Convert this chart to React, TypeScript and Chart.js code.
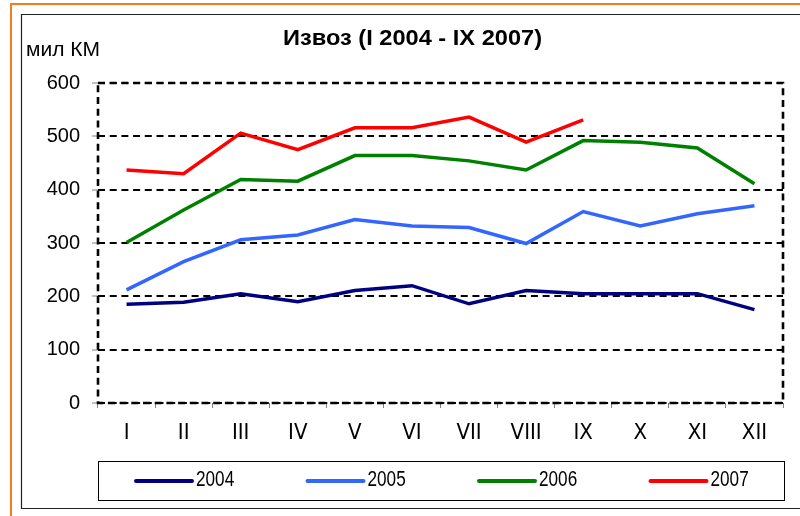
import React, { useEffect, useRef } from 'react';
import { Chart, registerables } from 'chart.js';
Chart.register(...registerables);

const months = ['I', 'II', 'III', 'IV', 'V', 'VI', 'VII', 'VIII', 'IX', 'X', 'XI', 'XII'];
const seriesNames = ['2004', '2005', '2006', '2007'];
const v2004 = [185, 189, 205, 190, 211, 220, 186, 211, 205, 205, 205, 175];
const v2005 = [212, 265, 306, 315, 344, 332, 329, 299, 359, 332, 355, 370];
const v2006 = [301, 362, 419, 416, 464, 464, 454, 437, 492, 489, 478, 411];
const v2007 = [437, 430, 506, 475, 516, 516, 536, 489, 531, null, null, null];
const colors = ['#000080', '#3366FF', '#008000', '#FF0000'];
const yTicks = [0, 100, 200, 300, 400, 500, 600];
const titleText = 'Извоз (I 2004 - IX 2007)';
const unitText = 'мил КМ';

const SANS = "'Liberation Sans', Arial, sans-serif";
const NARROW = "'Liberation Sans Narrow', 'Arial Narrow', 'DejaVu Sans Condensed', 'Liberation Sans', sans-serif";
const DASH = [7, 4.7];

const framePlugin = {
  id: 'frame',
  beforeDraw(chart: any) {
    const ctx = chart.ctx;
    ctx.save();
    ctx.fillStyle = '#fff';
    ctx.fillRect(0, 0, chart.width, chart.height);
    // orange outer frame
    ctx.strokeStyle = '#F47B20';
    ctx.lineWidth = 2;
    ctx.beginPath();
    ctx.moveTo(11, chart.height + 2);
    ctx.lineTo(11, 4);
    ctx.lineTo(chart.width + 2, 4);
    ctx.stroke();
    // black inner frame
    ctx.strokeStyle = '#222';
    ctx.lineWidth = 1.2;
    ctx.beginPath();
    ctx.moveTo(chart.width + 2, 508.5);
    ctx.lineTo(21.5, 508.5);
    ctx.lineTo(21.5, 14.5);
    ctx.lineTo(chart.width + 2, 14.5);
    ctx.stroke();
    ctx.restore();
  },
  afterDraw(chart: any) {
    const ctx = chart.ctx;
    const a = chart.chartArea;
    ctx.save();
    // plot border dashed
    ctx.strokeStyle = '#000';
    ctx.lineWidth = 2.6;
    ctx.setLineDash(DASH);
    ctx.strokeRect(a.left, a.top, a.right - a.left, a.bottom - a.top);
    ctx.setLineDash([]);
    // title
    ctx.fillStyle = '#000';
    ctx.font = `bold 22px ${SANS}`;
    const tw = ctx.measureText(titleText).width;
    ctx.save();
    ctx.translate(412.5, 45);
    ctx.scale(259 / tw, 1);
    ctx.textAlign = 'center';
    ctx.textBaseline = 'alphabetic';
    ctx.fillText(titleText, 0, 0);
    ctx.restore();
    // unit label
    ctx.font = `21px ${SANS}`;
    ctx.textAlign = 'left';
    ctx.textBaseline = 'alphabetic';
    ctx.fillText(unitText, 26, 56);
    // legend
    const lx = a.left, ly = 461, lw = 686, lh = 39;
    ctx.strokeStyle = '#000';
    ctx.lineWidth = 1;
    ctx.strokeRect(lx + 0.5, ly + 0.5, lw, lh);
    chart.data.datasets.forEach((ds: any, i: number) => {
      const sx = lx + 38 + i * 171.5;
      ctx.strokeStyle = ds.borderColor;
      ctx.lineWidth = 4;
      ctx.lineCap = 'round';
      ctx.beginPath();
      ctx.moveTo(sx, 481);
      ctx.lineTo(sx + 56, 481);
      ctx.stroke();
      ctx.fillStyle = '#000';
      ctx.font = `22px ${SANS}`;
      ctx.textAlign = 'left';
      ctx.textBaseline = 'middle';
      ctx.save();
      ctx.translate(sx + 60, 480);
      ctx.scale(0.78, 1);
      ctx.fillText(ds.label, 0, 0);
      ctx.restore();
    });
    ctx.restore();
  },
};

export default function App() {
  const ref = useRef<HTMLCanvasElement>(null);
  useEffect(() => {
    document.body.style.margin = '0';
    const series = [v2004, v2005, v2006, v2007];
    const chart = new Chart(ref.current!, {
      type: 'line',
      data: {
        labels: months,
        datasets: series.map((d, i) => ({
          label: seriesNames[i],
          data: d,
          borderColor: colors[i],
          backgroundColor: colors[i],
          borderWidth: 3.5,
          pointRadius: 0,
          tension: 0,
          spanGaps: false,
        })),
      },
      options: {
        responsive: false,
        animation: false,
        layout: { padding: { left: 22, right: 17, top: 83, bottom: 0 } },
        plugins: {
          legend: { display: false },
          title: { display: false },
          tooltip: { enabled: false },
        },
        scales: {
          x: {
            offset: true,
            grid: {
              offset: true,
              drawOnChartArea: false,
              drawTicks: true,
              tickLength: 5,
              tickColor: '#808080',
              tickWidth: 1,
            },
            border: { display: false },
            ticks: {
              font: { family: NARROW, size: 22 },
              color: '#000',
              padding: 12,
              maxRotation: 0,
              autoSkip: false,
            },
            afterFit: (s: any) => { s.height = 113; },
          },
          y: {
            min: 0,
            max: 600,
            afterBuildTicks: (s: any) => { s.ticks = yTicks.map((v) => ({ value: v })); },
            ticks: {
              font: { family: SANS, size: 20 },
              color: '#000',
              padding: 12,
            },
            grid: {
              color: '#000',
              lineWidth: 2,
              tickColor: '#808080',
              tickLength: 6,
              tickWidth: 1,
              tickBorderDash: [],
            },
            border: { display: false, dash: DASH },
            afterFit: (s: any) => { s.width = 76; },
          },
        },
      } as any,
      plugins: [framePlugin],
    });
    return () => chart.destroy();
  }, []);
  return <canvas ref={ref} width={800} height={516} style={{ display: 'block' }} />;
}
